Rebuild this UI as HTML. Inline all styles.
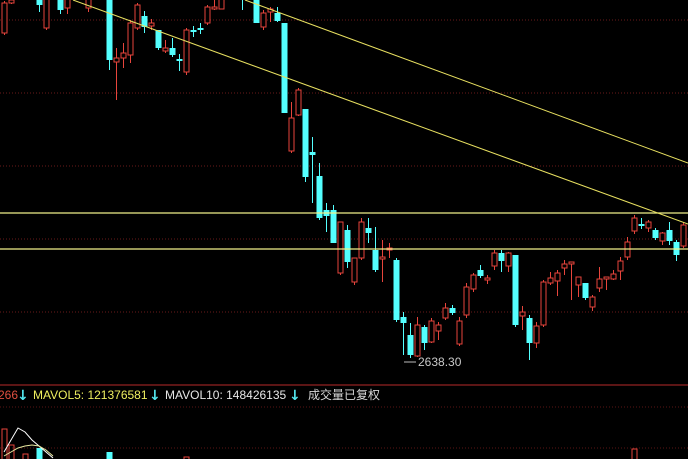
<!DOCTYPE html>
<html><head><meta charset="utf-8">
<style>
html,body{margin:0;padding:0;background:#000;}
#wrap{position:relative;width:688px;height:459px;overflow:hidden;background:#000;}
svg{position:absolute;left:0;top:0;}
.t{font-family:"Liberation Sans","Noto Sans CJK SC",sans-serif;font-size:12px;}
.a{font-family:"DejaVu Sans",sans-serif;font-size:14px;font-weight:bold;}
</style></head>
<body>
<div id="wrap">
<svg id="chart" width="688" height="459">
  <g id="grid"></g>
  <g id="candles"></g>
  <g id="trend"></g>
  <g id="vol"></g>
  <g>
    <line x1="404" y1="362" x2="416" y2="362" stroke="#bbb" stroke-width="1"/>
    <text class="t" x="418" y="366" fill="#c8c8c8">2638.30</text>
  </g>
  <g>
    <text class="t" x="-2" y="399" fill="#e05040">266</text>
    <text class="a" x="17" y="400" fill="#54e8f0">↓</text>
    <text class="t" x="33" y="399" fill="#f0f060">MAVOL5: 121376581</text>
    <text class="a" x="149" y="400" fill="#54e8f0">↓</text>
    <text class="t" x="165" y="399" fill="#e8e8e8">MAVOL10: 148426135</text>
    <text class="a" x="289" y="400" fill="#54e8f0">↓</text>
    <text class="t" x="308" y="399" fill="#d8d8d8">成交量已复权</text>
  </g>
</svg>
</div>
<script>
const opens=[2967,2997,3030,3015,3025,3005,2972,3020,3002,2992,3010,3020,2992,3012,3025,3005,2938,2942,2945,2972,2984,2974,2970,2949,2952,2941,2928,2970,2972,2977,2991,2991,3010,3025,3005,3020,3003,2973,2988,2987,2977,2849,2885,2891,2848,2824,2790,2790,2727,2770,2718,2742,2772,2750,2741,2750,2740,2683,2665,2644,2673,2658,2669,2682,2692,2656,2685,2711,2730,2720,2734,2747,2734,2745,2684,2682,2657,2675,2717,2719,2732,2736,2715,2717,2693,2712,2721,2721,2729,2743,2769,2776,2772,2770,2759,2770,2758,2754];
const highs=[2999,3002,3035,3030,3032,3008,3005,3030,3006,3006,3025,3030,3003,3030,3040,3010,2952,2957,2980,2997,2989,2981,2970,2960,2962,2946,2972,2974,2977,2995,3000,3003,3030,3035,3008,3030,3005,2990,2993,2993,2977,2898,2912,2891,2863,2837,2797,2795,2778,2775,2742,2782,2782,2773,2760,2757,2742,2688,2677,2683,2675,2682,2678,2697,2695,2683,2717,2727,2735,2725,2750,2750,2748,2745,2694,2685,2678,2720,2728,2730,2740,2738,2723,2717,2705,2733,2723,2730,2743,2763,2785,2782,2780,2772,2768,2778,2760,2778];
const lows=[2965,2996,3010,3008,3010,2988,2970,3005,2986,2986,3004,3006,2988,3008,3015,2930,2900,2932,2937,2970,2967,2970,2950,2947,2943,2929,2925,2963,2966,2975,2990,2991,3004,3012,2990,3006,2977,2970,2978,2978,2887,2847,2884,2818,2797,2780,2768,2757,2725,2732,2715,2740,2757,2728,2718,2742,2678,2645,2642,2643,2650,2657,2660,2680,2685,2654,2682,2708,2722,2716,2730,2728,2728,2673,2670,2640,2652,2673,2715,2704,2725,2700,2703,2700,2689,2708,2710,2720,2720,2740,2766,2771,2768,2760,2755,2755,2739,2752];
const closes=[2997,3000,3015,3025,3018,2995,3002,3010,2990,3002,3020,3012,3003,3025,3035,2940,2942,2947,2977,2995,2973,2977,2952,2952,2945,2939,2970,2968,2970,2993,2993,3001,3025,3020,3002,3010,2977,2987,2991,2979,2887,2882,2910,2823,2845,2782,2784,2757,2778,2738,2742,2778,2767,2730,2743,2752,2680,2677,2645,2675,2657,2679,2675,2692,2687,2679,2713,2725,2724,2722,2747,2739,2747,2675,2688,2657,2674,2718,2722,2727,2736,2738,2723,2702,2703,2721,2723,2726,2739,2758,2782,2774,2778,2762,2767,2759,2745,2775];
const volumes=[41,25,8,16,6,22,4,5,3,5,4,3,4,3,3,18,3,4,3,3,2,2,3,2,2,2,13,3,2,2,2,2,2,3,2,2,3,2,2,2,5,4,3,5,4,4,3,3,4,3,3,3,2,3,2,2,5,4,4,3,3,3,2,3,2,3,4,3,2,2,3,2,3,5,3,4,3,5,3,3,3,3,3,3,2,3,3,2,3,4,21,3,3,3,3,3,3,3];
const mavol5=[18,30,42,38,30,24,18,12];
const mavol10=[14,18,22,24,25,24,20,14];
const gridPrices=[2980,2907,2834,2761,2688];
const hLevels=[2787,2751];
const trendA=[[73,3000],[688,2776]];
const trendB=[[245,3000],[688,2837]];

const NS="http://www.w3.org/2000/svg";
const x=i=>4+i*7;
const y=p=>3000-p;
const vy=v=>470-v;
function mk(tag,attrs,parent){const e=document.createElementNS(NS,tag);for(const k in attrs)e.setAttribute(k,attrs[k]);parent.appendChild(e);return e;}

const grid=document.getElementById('grid');
gridPrices.forEach(p=>{
  const l=mk('line',{x1:0,x2:688,y1:y(p),y2:y(p),stroke:'#6a1a1a','stroke-dasharray':'1,2'},grid);
  
  
});
const sep=mk('line',{x1:0,x2:688,y1:385,y2:385,stroke:'#7a1c1c','stroke-width':1.5},grid);


const vg1=mk('line',{x1:0,x2:688,y1:407,y2:407,stroke:'#5a1515','stroke-dasharray':'1,2'},grid);


const vg2=mk('line',{x1:0,x2:688,y1:448,y2:448,stroke:'#5a1515','stroke-dasharray':'1,2'},grid);



const cg=document.getElementById('candles');
const RED='#e8453c',CYAN='#54ffff';
for(let i=0;i<opens.length;i++){
  const up=closes[i]>=opens[i];
  const col=up?RED:CYAN;
  const cx=x(i)+0.5;
  const top=y(Math.max(opens[i],closes[i])),bot=y(Math.min(opens[i],closes[i]));
  const g=mk('g',{},cg);
  
  
  mk('line',{x1:cx,x2:cx,y1:y(highs[i]),y2:top,stroke:col},g);
  mk('line',{x1:cx,x2:cx,y1:bot,y2:y(lows[i]),stroke:col},g);
  if(up) mk('rect',{x:cx-2.5,y:top,width:5,height:Math.max(bot-top,1),fill:'#000',stroke:col},g);
  else mk('rect',{x:cx-3,y:top,width:6,height:Math.max(bot-top,1.5),fill:col},g);
}

const tg=document.getElementById('trend');
hLevels.forEach(p=>{
  const l=mk('line',{x1:0,x2:688,y1:y(p),y2:y(p),stroke:'#f0f08a','stroke-width':1.2},tg);
  
  
});
[trendA,trendB].forEach(t=>{
  const l=mk('line',{x1:t[0][0],y1:y(t[0][1]),x2:t[1][0],y2:y(t[1][1]),stroke:'#e8e060','stroke-width':1},tg);
  
  
});

const vg=document.getElementById('vol');
for(let i=0;i<volumes.length;i++){
  const up=closes[i]>=opens[i];
  const top=vy(volumes[i]);
  if(top>=459) continue;
  const r=up?mk('rect',{x:x(i)-2,y:top,width:5,height:470-top,fill:'none',stroke:RED},vg):mk('rect',{x:x(i)-2.5,y:top,width:6,height:470-top,fill:CYAN},vg);
  
  
}
const p5=mk('polyline',{points:mavol5.map((v,i)=>`${x(i)},${vy(v)}`).join(' '),fill:'none',stroke:'#fff','stroke-width':1},vg);


const p10=mk('polyline',{points:mavol10.map((v,i)=>`${x(i)},${vy(v)}`).join(' '),fill:'none',stroke:'#e8e8a0','stroke-width':1},vg);


</script>
</body></html>
